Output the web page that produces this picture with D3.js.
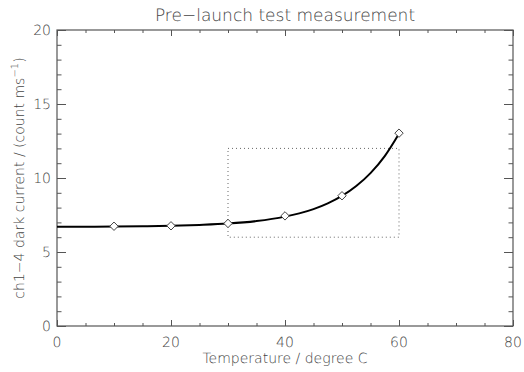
<!DOCTYPE html>
<html>
<head>
<meta charset="utf-8">
<script src="https://cdn.jsdelivr.net/npm/d3@7"></script>
<style>
  body { margin: 0; background: #fff; }
  text { font-family: "DejaVu Sans", sans-serif; fill: #444; text-rendering: geometricPrecision; }
</style>
</head>
<body>
<div id="chart"></div>
<script>
// measured points
const tempPoints = [10, 20, 30, 40, 50, 60];
const darkPoints = [6.74, 6.77, 6.93, 7.44, 8.80, 13.03];

// fitted curve
const curveTemp = [0, 5, 10, 15, 20, 25, 30, 35, 40, 42.5, 45, 47.5, 50, 52.5, 55, 57.5, 60];
const curveDark = [6.70, 6.71, 6.72, 6.74, 6.77, 6.83, 6.92, 7.09, 7.39, 7.61, 7.90, 8.29, 8.79, 9.46, 10.33, 11.48, 12.99];

// dotted box corners (temperature, dark current)
const boxTemp = [30, 60];
const boxDark = [6, 12];

const xMajorTicks = [0, 20, 40, 60, 80];
const yMajorTicks = [0, 5, 10, 15, 20];

const width = 524, height = 372;
const margin = {top: 30, right: 11, bottom: 46, left: 57};
const w = width - margin.left - margin.right;
const h = height - margin.top - margin.bottom;

const svg = d3.select("#chart").append("svg")
    .attr("width", width)
    .attr("height", height);

const g = svg.append("g")
    .attr("transform", "translate(" + margin.left + "," + margin.top + ")");

const x = d3.scaleLinear().domain([0, 80]).range([0, w]);
const y = d3.scaleLinear().domain([0, 20]).range([h, 0]);

const axisColor = "#555";

const xMinor = d3.range(0, 81, 5);
const yMinor = d3.range(0, 21, 1);

// ticks on all four sides, pointing inward
g.append("g")
    .attr("transform", "translate(0," + h + ")")
    .call(d3.axisTop(x).tickValues(xMinor).tickSize(3).tickFormat(""));
g.append("g")
    .attr("transform", "translate(0," + h + ")")
    .call(d3.axisTop(x).tickValues(xMajorTicks).tickSize(6).tickFormat(""));
g.append("g")
    .call(d3.axisBottom(x).tickValues(xMinor).tickSize(3).tickFormat(""));
g.append("g")
    .call(d3.axisBottom(x).tickValues(xMajorTicks).tickSize(6).tickFormat(""));

g.append("g")
    .call(d3.axisRight(y).tickValues(yMinor).tickSize(4.5).tickFormat(""));
g.append("g")
    .call(d3.axisRight(y).tickValues(yMajorTicks).tickSize(9).tickFormat(""));
g.append("g")
    .attr("transform", "translate(" + w + ",0)")
    .call(d3.axisLeft(y).tickValues(yMinor).tickSize(4.5).tickFormat(""));
g.append("g")
    .attr("transform", "translate(" + w + ",0)")
    .call(d3.axisLeft(y).tickValues(yMajorTicks).tickSize(9).tickFormat(""));

g.selectAll(".domain").remove();
g.selectAll(".tick line").attr("stroke", axisColor).attr("stroke-width", 1);

// frame
g.append("rect")
    .attr("x", 0).attr("y", 0)
    .attr("width", w).attr("height", h)
    .attr("fill", "none")
    .attr("stroke", axisColor)
    .attr("stroke-width", 1.2);

// tick labels
g.selectAll(".xlab").data(xMajorTicks).enter().append("text")
    .attr("x", d => x(d))
    .attr("y", h + 21)
    .attr("text-anchor", "middle")
    .attr("font-size", 14)
    .attr("font-weight", 300)
    .text(d => d);

g.selectAll(".ylab").data(yMajorTicks).enter().append("text")
    .attr("x", -6)
    .attr("y", d => y(d) + 5)
    .attr("text-anchor", "end")
    .attr("font-size", 14)
    .attr("font-weight", 300)
    .text(d => d);

// dotted box
g.append("rect")
    .attr("x", x(boxTemp[0]))
    .attr("y", y(boxDark[1]))
    .attr("width", x(boxTemp[1]) - x(boxTemp[0]))
    .attr("height", y(boxDark[0]) - y(boxDark[1]))
    .attr("fill", "none")
    .attr("stroke", "#666")
    .attr("stroke-width", 1)
    .attr("stroke-dasharray", "1,3");

// fit curve
const curveData = curveTemp.map((t, i) => [t, curveDark[i]]);
g.append("path")
    .datum(curveData)
    .attr("fill", "none")
    .attr("stroke", "#000")
    .attr("stroke-width", 2)
    .attr("d", d3.line()
        .x(d => x(d[0]))
        .y(d => y(d[1]))
        .curve(d3.curveMonotoneX));

// diamonds
const pts = tempPoints.map((t, i) => [t, darkPoints[i]]);
g.selectAll(".pt").data(pts).enter().append("path")
    .attr("transform", d => "translate(" + x(d[0]) + "," + y(d[1]) + ")")
    .attr("d", "M0,-4.2L4.2,0L0,4.2L-4.2,0Z")
    .attr("fill", "#fff")
    .attr("stroke", "#444")
    .attr("stroke-width", 1);

// title
svg.append("text")
    .attr("x", margin.left + w / 2)
    .attr("y", 21)
    .attr("text-anchor", "middle")
    .attr("font-size", 17)
    .attr("font-weight", 300)
    .text("Pre\u2212launch test measurement");

// x title
svg.append("text")
    .attr("x", margin.left + w / 2)
    .attr("y", 363)
    .attr("text-anchor", "middle")
    .attr("font-size", 14)
    .attr("font-weight", 300)
    .text("Temperature / degree C");

// y title with superscript
const yt = svg.append("text")
    .attr("transform", "translate(24," + (margin.top + h / 2) + ") rotate(-90)")
    .attr("text-anchor", "middle")
    .attr("font-size", 14)
    .attr("font-weight", 300);
yt.append("tspan").text("ch1\u22124 dark current / (count ms");
yt.append("tspan").attr("dy", -6).attr("font-size", 10).text("\u22121");
yt.append("tspan").attr("dy", 6).text(")");
</script>
</body>
</html>
